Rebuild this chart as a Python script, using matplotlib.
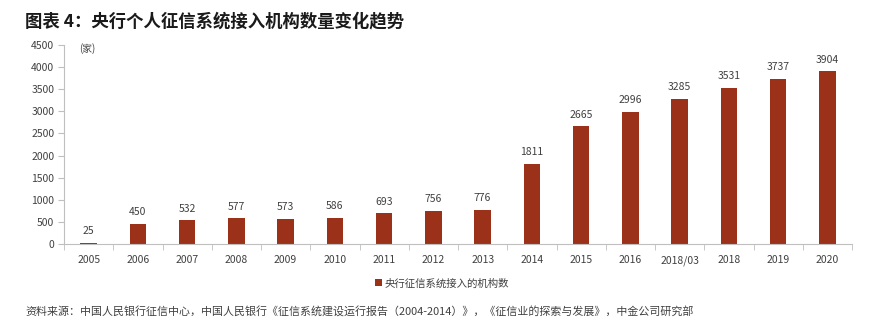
import matplotlib
matplotlib.use("Agg")
import matplotlib.pyplot as plt
from matplotlib.ticker import MultipleLocator, FixedLocator

plt.rcParams['font.family'] = ['Noto Sans CJK SC', 'DejaVu Sans']

categories = ["2005", "2006", "2007", "2008", "2009", "2010", "2011", "2012",
              "2013", "2014", "2015", "2016", "2018/03", "2018", "2019", "2020"]
values = [25, 450, 532, 577, 573, 586, 693, 756, 776, 1811, 2665, 2996,
          3285, 3531, 3737, 3904]
series_name = "央行征信系统接入的机构数"
title = "图表 4：央行个人征信系统接入机构数量变化趋势"
unit = "(家)"
source = "资料来源：中国人民银行征信中心，中国人民银行《征信系统建设运行报告（2004-2014）》，《征信业的探索与发展》，中金公司研究部"

bar_color = "#9C3119"
text_color = "#404040"
axis_color = "#BFBFBF"

fig = plt.figure(figsize=(8.72, 3.33), dpi=100)
ax = fig.add_axes([64 / 872, 1 - 244 / 333, 788 / 872, 199 / 333])

x = range(len(categories))
ax.bar(x, values, width=0.34, color=bar_color, label=series_name, zorder=2)
for xi, v in zip(x, values):
    ax.text(xi, v + 150, f"{v}", ha="center", va="bottom", fontsize=7.5,
            color=text_color)

ax.set_xlim(-0.5, len(categories) - 0.5)
ax.set_ylim(0, 4500)
ax.yaxis.set_major_locator(MultipleLocator(500))
ax.set_xticks(list(x))
ax.set_xticklabels(categories)
ax.xaxis.set_minor_locator(FixedLocator([i + 0.5 for i in range(-1, len(categories))]))
ax.tick_params(axis="x", which="major", length=0, labelsize=7.5,
               labelcolor=text_color, pad=8)
ax.tick_params(axis="x", which="minor", length=4, color=axis_color, direction="out")
ax.tick_params(axis="y", length=4, color=axis_color, labelsize=7.5,
               labelcolor=text_color, pad=3)

for side in ("top", "right"):
    ax.spines[side].set_visible(False)
ax.spines["left"].set_color(axis_color)
ax.spines["bottom"].set_color(axis_color)

ax.text(-0.2, 4430, unit, fontsize=7, color=text_color, va="center", ha="left")

fig.text(25 / 872, 1 - 21 / 333, title, fontsize=12.5, fontweight="bold",
         color="#1a1a1a", va="center", ha="left")

ax.legend(loc="upper center", bbox_to_anchor=(378 / 788, -0.125), frameon=False,
          fontsize=7.5, handlelength=0.7, handleheight=0.7, handletextpad=0.3,
          labelcolor=text_color)

fig.text(25 / 872, 1 - 311 / 333, source, fontsize=7.9, color=text_color,
         va="center", ha="left")

fig.savefig("out.png", dpi=100)
